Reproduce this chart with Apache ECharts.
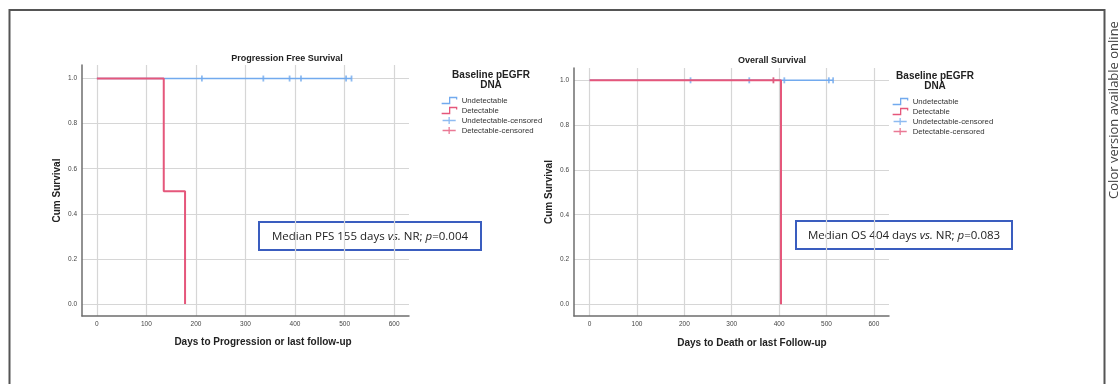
<!DOCTYPE html>
<html><head><meta charset="utf-8">
<script src="https://cdn.jsdelivr.net/npm/echarts@6/dist/echarts.min.js"></script>
<style>html,body{margin:0;padding:0;background:#fff}#c{width:1118px;height:384px}</style>
</head><body><div id="c"></div>
<script>
// ---- data ----
const xTicks = [0, 100, 200, 300, 400, 500, 600];
const yTicks = [0, 0.2, 0.4, 0.6, 0.8, 1.0];
const seriesNames = ['Undetectable', 'Detectable', 'Undetectable-censored', 'Detectable-censored'];
// Progression free survival (days, cumulative survival) - event points, drawn as steps
const pfsUndetectable = [[0, 1], [514, 1]];
const pfsDetectable = [[0, 1], [135, 0.5], [178, 0]];
const pfsUndetCensored = [[212, 1], [336, 1], [389, 1], [412, 1], [503, 1], [514, 1]];
const pfsDetCensored = [];
// Overall survival
const osUndetectable = [[0, 1], [514, 1]];
const osDetectable = [[0, 1], [404, 0]];
const osUndetCensored = [[213, 1], [337, 1], [411, 1], [505, 1], [514, 1]];
const osDetCensored = [[388, 1]];
const titles = ['Progression Free Survival', 'Overall Survival'];
const xNames = ['Days to Progression or last follow-up', 'Days to Death or last Follow-up'];
const yName = 'Cum Survival';
const legendTitle = 'Baseline pEGFR\nDNA';
const notes = [
  ['Median PFS 155 days ', 'vs.', ' NR; ', 'p', '=0.004'],
  ['Median OS 404 days ', 'vs.', ' NR; ', 'p', '=0.083']
];
const sideNote = 'Color version available online';

// ---- styling ----
const BLUE = '#72aaee', RED = '#e5577b', RED_C = '#d23a62';
const GRID_C = '#d6d6d6', AXIS_C = '#6e6e6e';
const chart = echarts.init(document.getElementById('c'), null, { renderer: 'canvas' });

const grids = [
  { left: 82, top: 65, width: 327, height: 251 },
  { left: 574, top: 68, width: 315, height: 248 }
];
const xRange = [[-30, 630], [-33, 632]];
const yRange = [[-0.053, 1.06], [-0.052, 1.055]];

function xAxis(i) {
  return {
    type: 'value', gridIndex: i, min: xRange[i][0], max: xRange[i][1],
    axisLine: { show: true, onZero: false, lineStyle: { color: AXIS_C, width: 1.5 } },
    axisTick: { show: false, customValues: xTicks },
    axisLabel: { customValues: xTicks, fontSize: 6.5, color: '#444', margin: 5, fontFamily: 'Liberation Sans' },
    splitLine: { show: true, lineStyle: { color: GRID_C, width: 1.2 } }
  };
}
function yAxis(i) {
  return {
    type: 'value', gridIndex: i, min: yRange[i][0], max: yRange[i][1],
    name: yName, nameLocation: 'middle', nameRotate: 90, nameGap: 20,
    nameTextStyle: { fontSize: 10, fontWeight: 'bold', color: '#222', fontFamily: 'Liberation Sans' },
    axisLine: { show: true, onZero: false, lineStyle: { color: AXIS_C, width: 1.5 } },
    axisTick: { show: false, customValues: yTicks },
    axisLabel: { customValues: yTicks, fontSize: 6.5, color: '#444', margin: 5, fontFamily: 'Liberation Sans',
      formatter: v => v.toFixed(1) },
    splitLine: { show: true, lineStyle: { color: GRID_C, width: 1.2 } }
  };
}
function lineSeries(name, data, i, color, w) {
  return { type: 'line', name, data, xAxisIndex: i, yAxisIndex: i, step: 'end',
    symbol: 'none', showSymbol: false, silent: true, animation: false,
    lineStyle: { color, width: w }, itemStyle: { color } };
}
function censorSeries(name, data, i, color) {
  return { type: 'scatter', name, data, xAxisIndex: i, yAxisIndex: i,
    symbol: 'rect', symbolSize: [1.8, 6], silent: true, animation: false,
    itemStyle: { color } };
}

const stepIcon = 'path://M0,7 L8,7 L8,1 L15,1 L15,3';
const crossIcon = 'path://M0,4 L15,4 M7.5,0 L7.5,8';
const iconColors = [BLUE, RED, BLUE, RED];
function legend(left, top) {
  return {
    orient: 'vertical', left, top, itemWidth: 15, itemHeight: 7, itemGap: 1, padding: 0,
    selectedMode: false,
    textStyle: { fontSize: 7.8, lineHeight: 9, color: '#333', fontFamily: 'Liberation Sans' },
    data: seriesNames.map((n, k) => ({
      name: n, icon: k < 2 ? stepIcon : crossIcon,
      itemStyle: { color: 'transparent', borderColor: iconColors[k], borderWidth: 1.3 }
    }))
  };
}
function noteGraphic(x, y, w, h, parts) {
  const base = { fontSize: 11.5, fontFamily: 'Open Sans', fill: '#222', color: '#222' };
  return {
    type: 'group', children: [
      { type: 'rect', shape: { x, y, width: w, height: h },
        style: { fill: '#fff', stroke: '#3a5dbf', lineWidth: 2 } },
      { type: 'text', x: x + w / 2, y: y + h / 2 + 0.5,
        style: {
          text: '{n|' + parts[0] + '}{i|' + parts[1] + '}{n|' + parts[2] + '}{i|' + parts[3] + '}{n|' + parts[4] + '}',
          align: 'center', verticalAlign: 'middle',
          rich: { n: base, i: Object.assign({}, base, { fontStyle: 'italic' }) }
        } }
    ]
  };
}

const titleFont = { fontSize: 9, fontWeight: 'bold', color: '#222', fontFamily: 'Liberation Sans' };
const axisNameFont = { fontSize: 10, fontWeight: 'bold', color: '#222', fontFamily: 'Liberation Sans' };
const legTitleFont = { fontSize: 10, fontWeight: 'bold', color: '#222', lineHeight: 10, fontFamily: 'Liberation Sans' };

chart.setOption({
  backgroundColor: '#fff',
  animation: false,
  title: [
    { text: titles[0], left: 287, top: 54, textAlign: 'center', padding: 0, textStyle: titleFont },
    { text: titles[1], left: 772, top: 56, textAlign: 'center', padding: 0, textStyle: titleFont },
    { text: xNames[0], left: 263, top: 337, textAlign: 'center', padding: 0, textStyle: axisNameFont },
    { text: xNames[1], left: 752, top: 338, textAlign: 'center', padding: 0, textStyle: axisNameFont },
    { text: legendTitle, left: 491, top: 70, textAlign: 'center', padding: 0, textStyle: legTitleFont },
    { text: legendTitle, left: 935, top: 71.5, textAlign: 'center', padding: 0, textStyle: legTitleFont }
  ],
  legend: [legend(441, 96), legend(892, 97)],
  grid: grids,
  xAxis: [xAxis(0), xAxis(1)],
  yAxis: [yAxis(0), yAxis(1)],
  series: [
    lineSeries(seriesNames[0], pfsUndetectable, 0, BLUE, 1.5),
    lineSeries(seriesNames[1], pfsDetectable, 0, RED, 2),
    censorSeries(seriesNames[2], pfsUndetCensored, 0, BLUE),
    censorSeries(seriesNames[3], pfsDetCensored, 0, RED_C),
    lineSeries(seriesNames[0], osUndetectable, 1, BLUE, 1.5),
    lineSeries(seriesNames[1], osDetectable, 1, RED, 2),
    censorSeries(seriesNames[2], osUndetCensored, 1, BLUE),
    censorSeries(seriesNames[3], osDetCensored, 1, RED_C)
  ],
  graphic: [
    { type: 'rect', shape: { x: 9.5, y: 10, width: 1095, height: 420 },
      style: { fill: 'none', stroke: '#555', lineWidth: 2 }, z: 10 },
    noteGraphic(259, 222, 222, 28, notes[0]),
    noteGraphic(796, 221, 216, 28, notes[1]),
    { type: 'text', x: 1114, y: 110, rotation: Math.PI / 2,
      style: { text: sideNote, fontSize: 13, fontFamily: 'Open Sans', fill: '#444',
        align: 'center', verticalAlign: 'middle' } }
  ]
});
</script></body></html>
